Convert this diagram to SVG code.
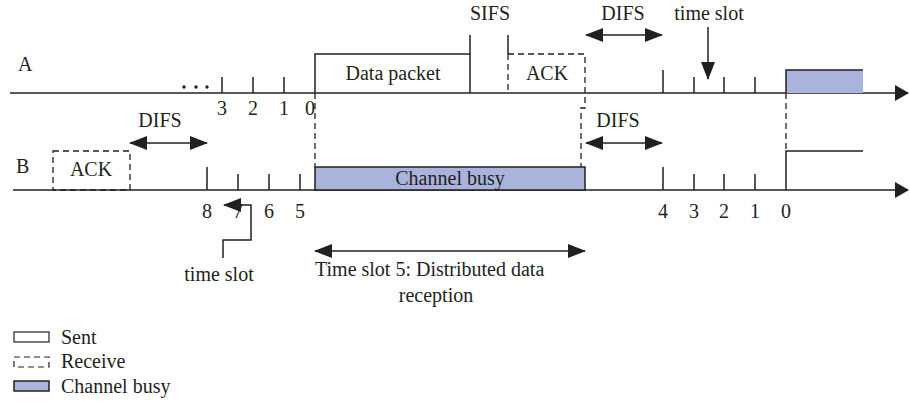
<svg xmlns="http://www.w3.org/2000/svg" width="910" height="407" viewBox="0 0 910 407">
<defs>
<marker id="ah" viewBox="0 0 18 14" refX="17" refY="7" markerWidth="18" markerHeight="14" markerUnits="userSpaceOnUse" orient="auto-start-reverse"><path d="M0,0 L18,7 L0,14 Z" fill="#231f20"/></marker>
<marker id="ax" viewBox="0 0 14 16" refX="13" refY="8" markerWidth="14" markerHeight="16" markerUnits="userSpaceOnUse" orient="auto"><path d="M0,0 L14,8 L0,16 Z" fill="#231f20"/></marker>
</defs>
<style>
text{font-family:"Liberation Serif","Times New Roman",serif;font-size:20px;fill:#231f20}
.c{text-anchor:middle}
.ln{stroke:#231f20;stroke-width:1.5;fill:none}
.dash{stroke:#231f20;stroke-width:1.3;fill:none;stroke-dasharray:6,4}
.busy{fill:#aab3dc;stroke:#231f20;stroke-width:1.5}
.arr{stroke:#231f20;stroke-width:1.5;fill:none;marker-start:url(#ah);marker-end:url(#ah)}
</style>
<rect width="910" height="407" fill="#fff"/>

<g id="axes">
<path class="ln" d="M10,93 H908" marker-end="url(#ax)"/>
<path class="ln" d="M13,190 H908" marker-end="url(#ax)"/>
<text x="18" y="71">A</text>
<text x="16" y="173">B</text>
</g>

<g id="A-backoff">
<circle cx="184" cy="87" r="1.7" fill="#231f20"/>
<circle cx="196" cy="87" r="1.7" fill="#231f20"/>
<circle cx="207" cy="87" r="1.7" fill="#231f20"/>
<path class="ln" d="M222,77 V93 M253,77 V93 M284,77 V93"/>
<text class="c" x="222" y="115">3</text>
<text class="c" x="253" y="115">2</text>
<text class="c" x="284" y="115">1</text>
<text class="c" x="310" y="115">0</text>
</g>

<g id="data-packet">
<path class="ln" d="M315,93 V54 H470 V93 M470,54 V35"/>
<text class="c" x="393" y="80">Data packet</text>
</g>

<g id="sifs">
<text class="c" x="490" y="20">SIFS</text>
</g>

<g id="ack-A">
<path class="ln" d="M508,35 V54"/>
<path class="dash" d="M508,54 H585 V108 H581 V167 M508,54 V93"/>
<text class="c" x="547" y="80">ACK</text>
</g>

<g id="difs-A">
<text class="c" x="623" y="20">DIFS</text>
<path class="arr" d="M586,35 H662"/>
</g>

<g id="A-slots">
<path class="ln" d="M663,70 V93 M694,77 V93 M724,77 V93 M755,77 V93"/>
<text class="c" x="709" y="20">time slot</text>
<path class="ln" d="M708,27 V79" marker-end="url(#ah)"/>
</g>

<g id="A-send">
<rect x="786" y="70" width="77" height="23" fill="#aab3dc"/>
<path class="ln" d="M786,93 V70 H863"/>
<path class="dash" d="M786,93 V151"/>
</g>

<g id="ack-B">
<rect class="dash" x="53" y="151" width="77" height="39"/>
<text class="c" x="91" y="176">ACK</text>
</g>

<g id="difs-B1">
<text class="c" x="160" y="127">DIFS</text>
<path class="arr" d="M130,143 H207"/>
</g>

<g id="B-backoff">
<path class="ln" d="M207,167 V190 M238,174 V190 M269,174 V190 M300,174 V190"/>
<text class="c" x="207" y="218">8</text>
<text class="c" x="238" y="218">7</text>
<text class="c" x="269" y="218">6</text>
<text class="c" x="300" y="218">5</text>
<path class="ln" d="M223,258 V240 H251 V205 H224" marker-end="url(#ah)"/>
<text class="c" x="219" y="281">time slot</text>
</g>

<g id="channel-busy">
<path class="dash" d="M315,93 V167"/>
<rect class="busy" x="315" y="167" width="270" height="23"/>
<text class="c" x="450" y="185">Channel busy</text>
</g>

<g id="reception">
<path class="arr" d="M315,251 H585"/>
<text x="315" y="276">Time slot 5: Distributed data</text>
<text class="c" x="436" y="302">reception</text>
</g>

<g id="difs-B2">
<text class="c" x="618" y="127">DIFS</text>
<path class="arr" d="M586,143 H662"/>
</g>

<g id="B-slots">
<path class="ln" d="M663,167 V190 M694,174 V190 M724,174 V190 M755,174 V190"/>
<path class="ln" d="M786,190 V151 H863"/>
<text class="c" x="663" y="218">4</text>
<text class="c" x="694" y="218">3</text>
<text class="c" x="724" y="218">2</text>
<text class="c" x="755" y="218">1</text>
<text class="c" x="786" y="218">0</text>
</g>

<g id="legend">
<rect x="14" y="332" width="35" height="10" fill="none" stroke="#231f20" stroke-width="1.2"/>
<text x="61" y="344">Sent</text>
<rect x="14" y="357" width="35" height="10" fill="none" stroke="#231f20" stroke-width="1.2" stroke-dasharray="6,4"/>
<text x="61" y="368">Receive</text>
<rect x="14" y="381" width="35" height="10" class="busy" stroke-width="1.2"/>
<text x="61" y="393">Channel busy</text>
</g>
</svg>
